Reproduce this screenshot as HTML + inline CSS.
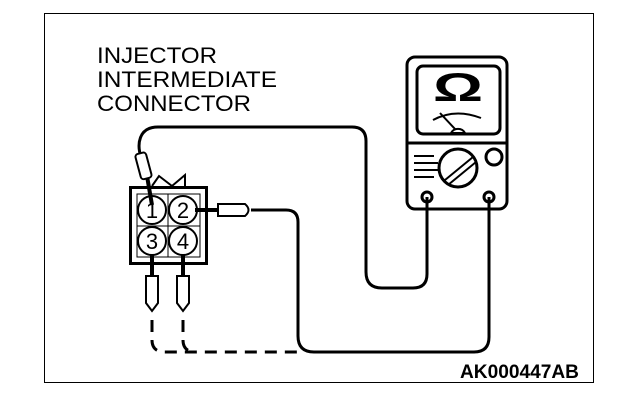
<!DOCTYPE html>
<html><head><style>body{margin:0;background:#fff}svg{display:block}</style></head><body>
<svg width="624" height="404" viewBox="0 0 624 404" xmlns="http://www.w3.org/2000/svg" font-family="Liberation Sans, sans-serif">
<rect x="44.5" y="13.5" width="549" height="369" fill="none" stroke="#000" stroke-width="1"/>
<g font-size="22" fill="#000">
<text x="97" y="63" textLength="120" lengthAdjust="spacingAndGlyphs">INJECTOR</text>
<text x="97" y="87" textLength="180" lengthAdjust="spacingAndGlyphs">INTERMEDIATE</text>
<text x="97" y="111" textLength="154" lengthAdjust="spacingAndGlyphs">CONNECTOR</text>
</g>
<text x="460" y="378" font-size="19" font-weight="bold" textLength="119" lengthAdjust="spacingAndGlyphs">AK000447AB</text>
<g fill="none" stroke="#000" stroke-width="3" stroke-linejoin="round">
<path d="M141 157 C137 145 138 127 158 127 L352 127 Q366 127 366 141 L366 272 Q366 288 382 288 L413 288 Q427 288 427 274 L427 197"/>
<path d="M251 210 L286 210 Q298 210 298 222 L298 336 Q298 352 314 352 L474 352 Q489 352 489 337 L489 197"/>
<path d="M152 320 L152 340 Q152 352 165 352 L298 352" stroke-dasharray="12 8"/>
<path d="M183 320 L183 340 Q183 352 196 352" stroke-dasharray="12 8"/>
<rect x="407" y="57" width="100" height="152" rx="8"/>
<rect x="417" y="66" width="83" height="68" rx="6"/>
<line x1="407" y1="143" x2="507" y2="143"/>
<circle cx="494" cy="157" r="8"/>
<circle cx="458" cy="168" r="19"/>
<circle cx="427" cy="197" r="5"/>
<circle cx="489" cy="197" r="5"/>
</g>
<g stroke="#000" stroke-width="2" fill="none">
<path d="M433 120 Q455 108 481 118"/>
<line x1="440" y1="113" x2="455" y2="129"/>
<path d="M451 133 A8 8 0 0 1 465 133 Z"/>
<path d="M414 156 L434 156 M414 163 L438 163 M414 170 L438 170 M414 177 L434 177"/>
<line x1="445" y1="180" x2="473" y2="157"/>
<line x1="448" y1="185" x2="476" y2="162"/>
</g>
<text x="458" y="101" font-size="40" font-weight="bold" text-anchor="middle" textLength="50" lengthAdjust="spacingAndGlyphs">Ω</text>
<g stroke="#000" fill="none">
<path d="M152 186 L159 176 L172 186 L185 175 L185 186" stroke-width="2"/>
<rect x="130.5" y="187.5" width="76" height="76" stroke-width="3"/>
<rect x="137" y="194" width="63" height="63" stroke-width="1"/>
<line x1="168" y1="194" x2="168" y2="257" stroke-width="1"/>
<line x1="137" y1="226" x2="200" y2="226" stroke-width="1"/>
<g fill="#fff" stroke-width="2">
<circle cx="152" cy="210" r="14"/><circle cx="183" cy="210" r="14"/>
<circle cx="152" cy="241" r="14"/><circle cx="183" cy="241" r="14"/>
</g>
<line x1="152" y1="205" x2="147" y2="176" stroke-width="4"/>
<rect x="138" y="153" width="11" height="26" rx="3" transform="rotate(-15 143 166)" fill="#fff" stroke-width="2"/>
<line x1="195" y1="210" x2="218" y2="210" stroke-width="4"/>
<path d="M218 204 L245 204 Q252 210 245 216 L218 216 Z" fill="#fff" stroke-width="2"/>
<line x1="152" y1="254" x2="152" y2="276" stroke-width="4"/>
<line x1="183" y1="254" x2="183" y2="276" stroke-width="4"/>
<path d="M146 276 L158 276 L158 303 L152 311 L146 303 Z" fill="#fff" stroke-width="2"/>
<path d="M177 276 L189 276 L189 303 L183 311 L177 303 Z" fill="#fff" stroke-width="2"/>
</g>
<g font-size="22" text-anchor="middle">
<text x="152" y="218">1</text><text x="183" y="218">2</text>
<text x="152" y="249">3</text><text x="183" y="249">4</text>
</g>
</svg>
</body></html>
